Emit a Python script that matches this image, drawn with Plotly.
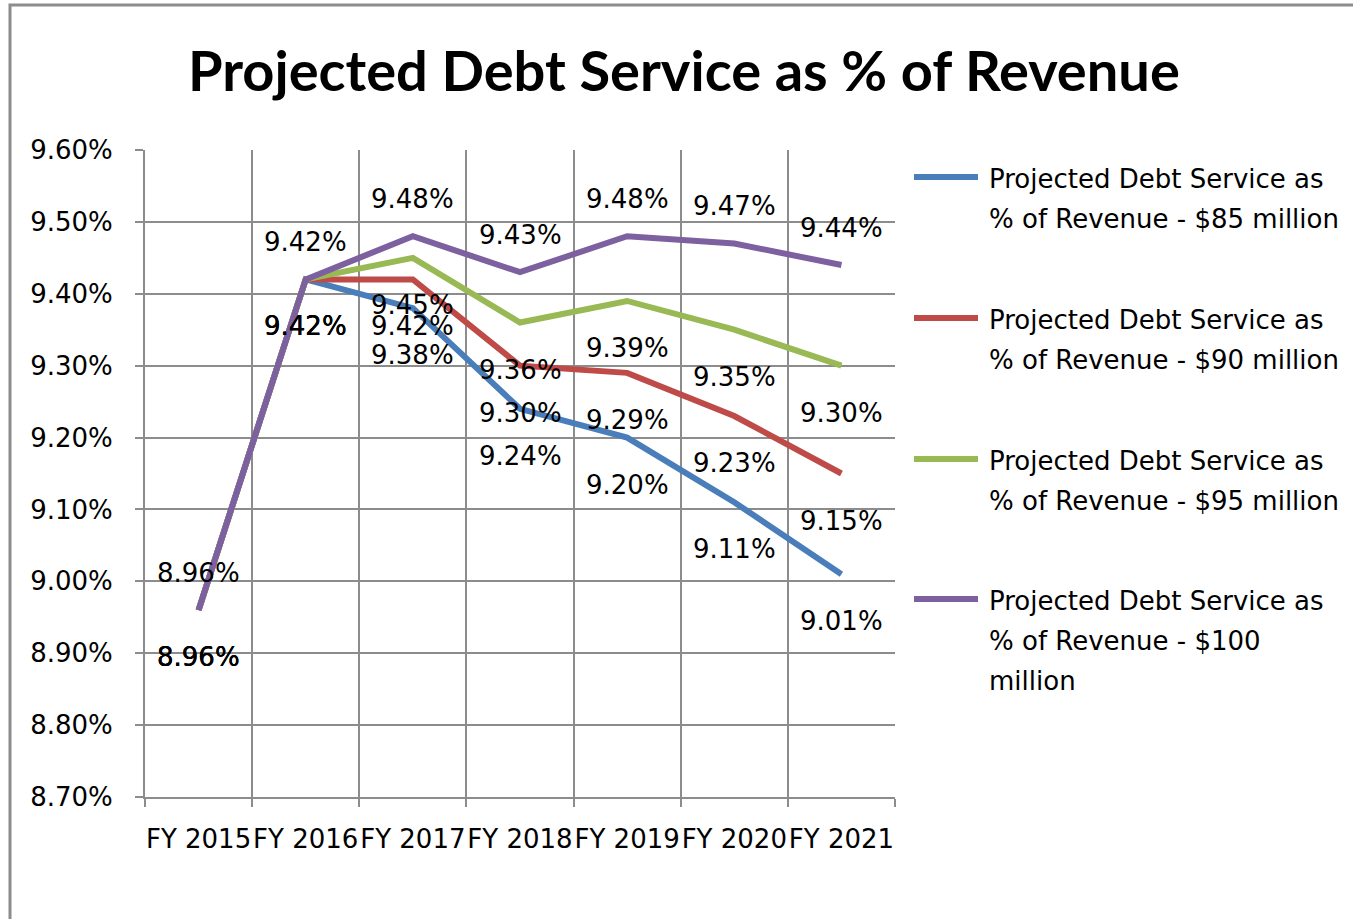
import plotly.graph_objects as go

# Fiscal years on the category axis
years = ["FY 2015", "FY 2016", "FY 2017", "FY 2018", "FY 2019", "FY 2020", "FY 2021"]

# Debt service as % of revenue, one series per borrowing scenario
ds_85m = [8.96, 9.42, 9.38, 9.24, 9.20, 9.11, 9.01]
ds_90m = [8.96, 9.42, 9.42, 9.30, 9.29, 9.23, 9.15]
ds_95m = [8.96, 9.42, 9.45, 9.36, 9.39, 9.35, 9.30]
ds_100m = [8.96, 9.42, 9.48, 9.43, 9.48, 9.47, 9.44]

series_names = [
    "Projected Debt Service as % of Revenue - $85 million",
    "Projected Debt Service as % of Revenue - $90 million",
    "Projected Debt Service as % of Revenue - $95 million",
    "Projected Debt Service as % of Revenue - $100 million",
]
legend_lines = [
    ["Projected Debt Service as", "% of Revenue - $85 million"],
    ["Projected Debt Service as", "% of Revenue - $90 million"],
    ["Projected Debt Service as", "% of Revenue - $95 million"],
    ["Projected Debt Service as", "% of Revenue - $100", "million"],
]
colors = ["#4A7EBB", "#BE4B48", "#98B954", "#7D60A0"]
all_series = [ds_85m, ds_90m, ds_95m, ds_100m]

W, H = 1353, 919
L, R, T, B = 145, 895, 150, 797  # plot area in pixels
FONT = "DejaVu Sans"


def px(x):
    return (x - L) / (R - L)


def py(y):
    return (B - y) / (B - T)


fig = go.Figure()
for name, vals, col in zip(series_names, all_series, colors):
    fig.add_trace(go.Scatter(
        x=years, y=vals, name=name, mode="lines",
        line=dict(color=col, width=6), showlegend=False,
    ))

annotations = []
# data labels: the top series above its line, the others below
for i, vals in enumerate(all_series):
    above = i == len(all_series) - 1
    for yr, v in zip(years, vals):
        annotations.append(dict(
            x=yr, y=v, xref="x", yref="y", text=f"{v:.2f}%", showarrow=False,
            yshift=37 if above else -47, xanchor="center", yanchor="middle",
            font=dict(family=FONT, size=26, color="black"),
        ))

# title
annotations.append(dict(
    x=px(684), y=py(70), xref="paper", yref="paper", showarrow=False,
    text="<b>Projected Debt Service as % of Revenue</b>",
    xanchor="center", yanchor="middle",
    font=dict(family="Lato", size=56, color="black"),
))

shapes = []
# hand-drawn legend
entry_top = [177, 318, 459, 599]
for lines, col, y0 in zip(legend_lines, colors, entry_top):
    shapes.append(dict(
        type="line", xref="paper", yref="paper",
        x0=px(914), x1=px(978), y0=py(y0), y1=py(y0),
        line=dict(color=col, width=6),
    ))
    for k, txt in enumerate(lines):
        annotations.append(dict(
            x=px(987), y=py(y0 + 2 + 40 * k), xref="paper", yref="paper",
            text=txt, showarrow=False, xanchor="left", yanchor="middle",
            font=dict(family=FONT, size=26, color="black"),
        ))

# outer chart border
shapes.append(dict(
    type="rect", xref="paper", yref="paper",
    x0=px(10), x1=px(1380), y0=py(5), y1=py(940),
    line=dict(color="#8C8C8C", width=3), fillcolor="rgba(0,0,0,0)", layer="below",
))

fig.update_layout(
    width=W, height=H, autosize=False,
    margin=dict(l=L, r=W - R, t=T, b=H - B, pad=0),
    paper_bgcolor="white", plot_bgcolor="white",
    annotations=annotations, shapes=shapes,
    font=dict(family=FONT, size=26, color="black"),
    xaxis=dict(
        type="category", range=[-0.5, 6.5], tickson="boundaries", tickangle=0,
        showgrid=True, gridcolor="#8C8C8C", gridwidth=2,
        ticks="outside", ticklen=8, tickcolor="#8C8C8C", tickwidth=2,
        showline=True, linecolor="#8C8C8C", linewidth=2,
        tickfont=dict(family=FONT, size=26, color="black"),
        ticklabelstandoff=18, zeroline=False,
    ),
    yaxis=dict(
        range=[8.70, 9.60], dtick=0.1, tick0=8.70, tickformat=".2f", ticksuffix="%",
        showgrid=True, gridcolor="#8C8C8C", gridwidth=2,
        ticks="outside", ticklen=8, tickcolor="#8C8C8C", tickwidth=2,
        showline=True, linecolor="#8C8C8C", linewidth=2,
        tickfont=dict(family=FONT, size=26, color="black"),
        ticklabelstandoff=17, zeroline=False,
    ),
)

fig.write_html("out.html")
